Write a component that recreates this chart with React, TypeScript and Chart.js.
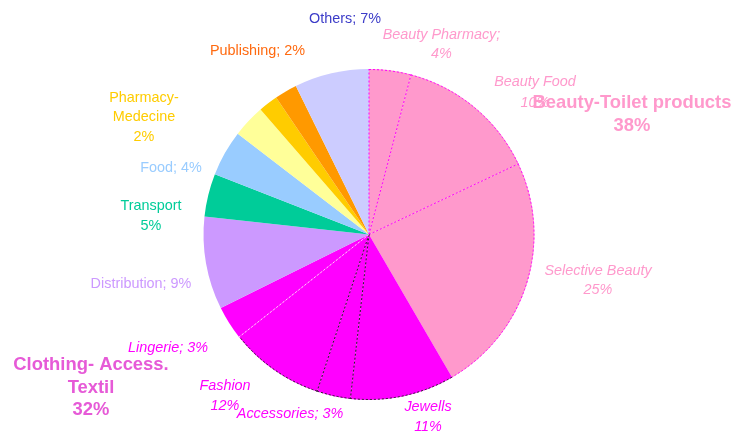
import React, { useEffect, useRef } from "react";
import { Chart, registerables } from "chart.js";

Chart.register(...registerables);

// ---- data ----
const categories = [
  "Beauty Pharmacy",
  "Beauty Food",
  "Selective Beauty",
  "Jewells",
  "Accessories",
  "Fashion",
  "Lingerie",
  "Distribution",
  "Transport",
  "Food",
  "Para-Pharmacy",
  "Pharmacy-Medecine",
  "Publishing",
  "Others",
];
// slice sizes (angles)
const shares = [4.1, 13.9, 23.7, 10.2, 3.3, 9.3, 3.3, 9.1, 4.2, 4.5, 3.2, 1.9, 2.2, 7.3];
// percentages printed on the labels
const printedPct = ["4%", "10%", "25%", "11%", "3%", "12%", "3%", "9%", "5%", "4%", "", "2%", "2%", "7%"];
const groupNames = ["Beauty-Toilet products", "Clothing- Access. Textil"];
const groupPct = ["38%", "32%"];

// ---- styles ----
const sliceColors = [
  "#FF99CC", "#FF99CC", "#FF99CC",
  "#FF00FF", "#FF00FF", "#FF00FF", "#FF00FF",
  "#CC99FF", "#00CC99", "#99CCFF", "#FFFF99", "#FFCC00", "#FF9900", "#CCCCFF",
];
const MAG = "#FF00FF";
const DARK = "#222222";
const edgeStyles: { outer: string | null; start: string | null }[] = [
  { outer: MAG, start: MAG },
  { outer: MAG, start: MAG },
  { outer: MAG, start: MAG },
  { outer: DARK, start: null },
  { outer: DARK, start: DARK },
  { outer: DARK, start: DARK },
  { outer: null, start: "#FFD0F5" },
  { outer: null, start: null },
  { outer: null, start: null },
  { outer: null, start: null },
  { outer: null, start: null },
  { outer: null, start: null },
  { outer: null, start: null },
  { outer: null, start: null },
];

const FONT = "'Liberation Sans', Arial, sans-serif";
const N = `14.4px ${FONT}`;
const I = `italic 14.4px ${FONT}`;
const B = `bold 18.4px ${FONT}`;

type Lbl = { lines: string[]; color: string; font: string; x: number; y: number; lh: number };

// label layout (text placement, absolute px in the 736x434 canvas)
const labelLayout: Lbl[] = [
  { lines: [`${categories[13]}; ${printedPct[13]}`], color: "#3C3CC8", font: N, x: 345, y: 19, lh: 20 },
  { lines: [`${categories[12]}; ${printedPct[12]}`], color: "#FF6A10", font: N, x: 257.5, y: 51.5, lh: 20 },
  { lines: ["Pharmacy-", "Medecine", printedPct[11]], color: "#FFCC00", font: N, x: 144, y: 98, lh: 19.5 },
  { lines: [`${categories[9]}; ${printedPct[9]}`], color: "#99CCFF", font: N, x: 171, y: 168, lh: 20 },
  { lines: [categories[8], printedPct[8]], color: "#00CC99", font: N, x: 151, y: 206, lh: 20 },
  { lines: [`${categories[7]}; ${printedPct[7]}`], color: "#CC99FF", font: N, x: 141, y: 284, lh: 20 },
  { lines: [`${categories[6]}; ${printedPct[6]}`], color: "#FF00FF", font: I, x: 168, y: 348, lh: 20 },
  { lines: [categories[5], printedPct[5]], color: "#FF00FF", font: I, x: 225, y: 386, lh: 20 },
  { lines: [`${categories[4]}; ${printedPct[4]}`], color: "#FF00FF", font: I, x: 290, y: 414, lh: 20 },
  { lines: [categories[3], printedPct[3]], color: "#FF00FF", font: I, x: 428, y: 407, lh: 20 },
  { lines: [categories[2], printedPct[2]], color: "#FF99CC", font: I, x: 598, y: 270.5, lh: 19 },
  { lines: [categories[1], printedPct[1]], color: "#FF99CC", font: I, x: 535, y: 82, lh: 21 },
  { lines: [`${categories[0]};`, printedPct[0]], color: "#FF99CC", font: I, x: 441.5, y: 35, lh: 19 },
  { lines: [groupNames[0], groupPct[0]], color: "#FF99CC", font: B, x: 632, y: 103, lh: 22.7 },
  { lines: ["Clothing- Access.", "Textil", groupPct[1]], color: "#E65AD7", font: B, x: 91, y: 365, lh: 22.5 },
];

const dottedEdges = {
  id: "dottedEdges",
  afterDatasetsDraw(chart: any) {
    const meta = chart.getDatasetMeta(0);
    const ctx = chart.ctx as CanvasRenderingContext2D;
    ctx.save();
    ctx.lineWidth = 1;
    ctx.setLineDash([2, 2]);
    meta.data.forEach((arc: any, i: number) => {
      const p = arc.getProps(["x", "y", "startAngle", "endAngle", "outerRadius"], true);
      const s = edgeStyles[i];
      if (!s) return;
      if (s.outer) {
        ctx.strokeStyle = s.outer;
        ctx.beginPath();
        ctx.arc(p.x, p.y, p.outerRadius - 0.5, p.startAngle, p.endAngle);
        ctx.stroke();
      }
      if (s.start) {
        ctx.strokeStyle = s.start;
        ctx.beginPath();
        ctx.moveTo(p.x, p.y);
        ctx.lineTo(p.x + p.outerRadius * Math.cos(p.startAngle), p.y + p.outerRadius * Math.sin(p.startAngle));
        ctx.stroke();
      }
    });
    ctx.restore();
  },
};

const textLabels = {
  id: "textLabels",
  afterDraw(chart: any) {
    const ctx = chart.ctx as CanvasRenderingContext2D;
    ctx.save();
    ctx.textAlign = "center";
    ctx.textBaseline = "middle";
    labelLayout.forEach((l) => {
      ctx.font = l.font;
      ctx.fillStyle = l.color;
      l.lines.forEach((t, k) => {
        if (t) ctx.fillText(t, l.x, l.y + k * l.lh);
      });
    });
    ctx.restore();
  },
};

export default function App() {
  const ref = useRef<HTMLCanvasElement | null>(null);
  useEffect(() => {
    document.body.style.margin = "0";
    if (!ref.current) return;
    const chart = new Chart(ref.current, {
      type: "pie",
      data: {
        labels: categories,
        datasets: [
          {
            data: shares,
            backgroundColor: sliceColors,
            borderWidth: 0,
          },
        ],
      },
      options: {
        responsive: false,
        animation: false,
        layout: { padding: { top: 69, bottom: 34, left: 2, right: 0 } },
        plugins: {
          legend: { display: false },
          tooltip: { enabled: false },
        },
        events: [],
      },
      plugins: [dottedEdges, textLabels],
    });
    return () => chart.destroy();
  }, []);
  return (
    <div style={{ width: 736, height: 434, background: "#fff" }}>
      <canvas ref={ref} width={736} height={434} style={{ display: "block" }} />
    </div>
  );
}
